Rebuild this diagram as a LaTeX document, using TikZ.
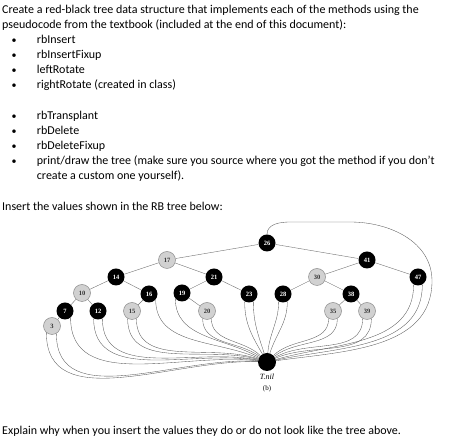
\documentclass[tikz,border=0pt]{standalone}
\usepackage{fontspec}
\setmainfont{Carlito}
\newfontfamily\treefont{Liberation Serif}

\tikzset{
  txt/.style={anchor=base west, inner sep=0pt, font=\fontsize{12}{14}\selectfont},
  bullet/.style={anchor=base west, inner sep=0pt, font=\fontsize{10}{12}\selectfont},
  rbnode/.style={circle, minimum size=17pt, inner sep=0pt,
    font=\treefont\bfseries\fontsize{6.5}{6.5}\selectfont},
  blacknode/.style={rbnode, fill=black, text=white},
  rednode/.style={rbnode, fill=black!18, draw=black!45, line width=0.5pt, text=black!80},
  treeedge/.style={draw=black!55, line width=0.4pt},
  nilarc/.style={draw=black!65, line width=0.35pt}
}

\begin{document}
\begin{tikzpicture}[x=1pt, y=1pt]
    \useasboundingbox (0,0) rectangle (452,446);

    % Assignment text
    \node[txt] (line1) at (2,432) {Create a red-black tree data structure that implements each of the methods using the};
    \node[txt] (line2) at (2,417) {pseudocode from the textbook (included at the end of this document):};
    \foreach \y/\t [count=\i] in {402/rbInsert, 387/rbInsertFixup, 372/leftRotate,
        357/{rightRotate (created in class)}, 326/rbTransplant, 311/rbDelete,
        296/rbDeleteFixup, 281/{print/draw the tree (make sure you source where you got the method if you don’t}} {
      \node[bullet] (dot\i) at (11.5,\y+0.5) {•};
      \node[txt] (item\i) at (36.7,\y) {\t};
    }
    \node[txt] (item9) at (36.7,266) {create a custom one yourself).};
    \node[txt] (insert) at (2,235) {Insert the values shown in the RB tree below:};
    \node[txt] (explain) at (2,11) {Explain why when you insert the values they do or do not look like the tree above.};

    % Red-black tree
    \node[blacknode] (n26) at (267,203) {26};
    \node[rednode]   (n17) at (167,186) {17};
    \node[blacknode] (n41) at (367,186) {41};
    \node[blacknode] (n14) at (116,169) {14};
    \node[blacknode] (n21) at (214,169) {21};
    \node[rednode]   (n30) at (317,169) {30};
    \node[blacknode] (n47) at (418,169) {47};
    \node[rednode]   (n10) at (82,153) {10};
    \node[blacknode] (n16) at (149,152) {16};
    \node[blacknode] (n19) at (182,153) {19};
    \node[blacknode] (n23) at (249,152) {23};
    \node[blacknode] (n28) at (283,152) {28};
    \node[blacknode] (n38) at (351,152) {38};
    \node[blacknode] (n7)  at (65,135) {7};
    \node[blacknode] (n12) at (98,135) {12};
    \node[rednode]   (n15) at (132,135) {15};
    \node[rednode]   (n20) at (207,135) {20};
    \node[rednode]   (n35) at (333,135) {35};
    \node[rednode]   (n39) at (367,135) {39};
    \node[rednode]   (n3)  at (52,120) {3};

    % Sentinel
    \node[circle, fill=black, minimum size=18pt, inner sep=0pt] (nil) at (267,84) {};
    \node[font=\treefont\itshape\fontsize{8}{9}\selectfont] (nillabel) at (267,69) {T.nil};
    \node[font=\treefont\fontsize{7}{8}\selectfont] (caption) at (267,57) {(b)};

    \foreach \a/\b in {26/17, 26/41, 17/14, 17/21, 14/10, 14/16, 10/7, 10/12, 7/3,
        16/15, 21/19, 21/23, 19/20, 41/30, 41/47, 30/28, 30/38, 38/35, 38/39}
      \draw[treeedge] (n\a) -- (n\b);

    % Leaves to T.nil
    \foreach \n/\s/\i in {3/-130/178, 3/-60/176, 7/-50/173, 12/-120/170, 12/-60/168,
        15/-120/164, 15/-60/161, 16/-40/156, 19/-140/150, 20/-120/143, 20/-60/136,
        23/-120/120, 23/-60/108, 28/-120/85, 28/-60/72, 35/-120/45, 35/-60/38,
        39/-120/30, 39/-60/24, 47/-120/16, 47/-60/12}
      \draw[nilarc] (n\n.\s) to[out=-90, in=\i] (nil);
    \draw[nilarc] (n26.north) to[out=90, in=180] (290,224) -- (350,224)
      to[out=0, in=90] (432,165) to[out=-90, in=8] (nil);
\end{tikzpicture}
\end{document}
